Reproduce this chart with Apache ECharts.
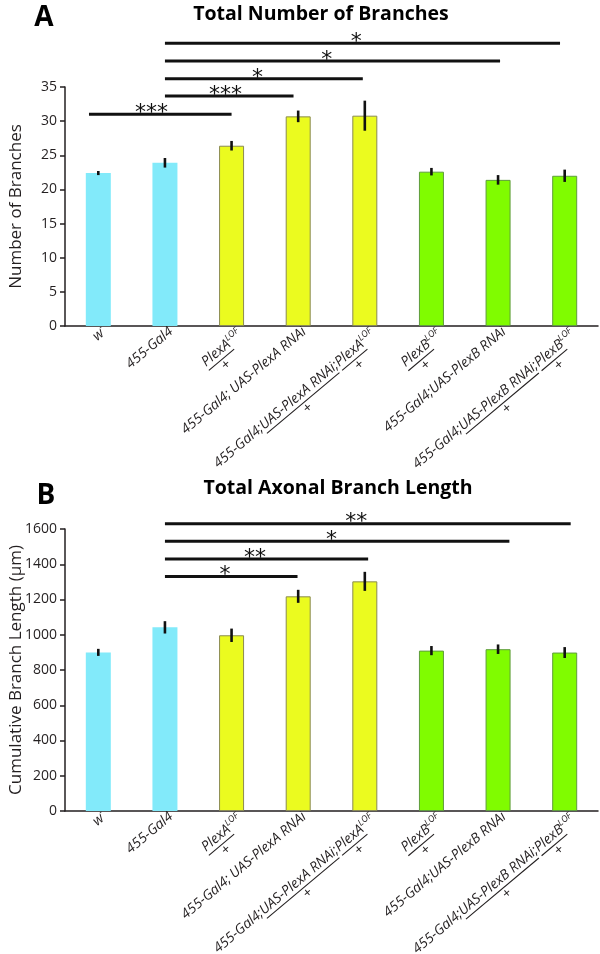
<!DOCTYPE html>
<html><head><meta charset="utf-8">
<script src="https://cdn.jsdelivr.net/npm/echarts@6/dist/echarts.min.js"></script>
<style>html,body{margin:0;padding:0;background:#fff}#c{width:600px;height:954px}</style>
</head><body><div id="c"></div>
<script>
// ---------------- DATA ----------------
const categories = [
  'w-', '455-Gal4', 'PlexA LOF/+', '455-Gal4; UAS-PlexA RNAi',
  '455-Gal4;UAS-PlexA RNAi/+;PlexA LOF/+', 'PlexB LOF/+',
  '455-Gal4;UAS-PlexB RNAi', '455-Gal4;UAS-PlexB RNAi/+;PlexB LOF/+'
];
const groups = ['control', 'control', 'plexA', 'plexA', 'plexA', 'plexB', 'plexB', 'plexB'];

const branchMeans  = [22.4, 23.9, 26.4, 30.7, 30.8, 22.6, 21.4, 22.0];
const branchErrors = [0.3, 0.7, 0.7, 0.85, 2.2, 0.55, 0.7, 0.9];

const lengthMeans  = [900, 1042, 997, 1218, 1303, 910, 918, 899];
const lengthErrors = [20, 35, 38, 37, 54, 26, 27, 31];

// significance bars: [from index, to index, level, stars, star position index]
const branchSig = [
  [-0.14, 2.0, 31.0, '***', 0.80],
  [1.0, 2.93, 33.7, '***', 1.91],
  [1.0, 3.97, 36.2, '*', 2.39],
  [1.0, 6.03, 38.8, '*', 3.43],
  [1.0, 6.93, 41.4, '*', 3.87]
];
const lengthSig = [
  [1.0, 2.99, 1330, '*', 1.90],
  [1.0, 4.05, 1430, '**', 2.35],
  [1.0, 6.17, 1530, '*', 3.50],
  [1.0, 7.09, 1630, '**', 3.87]
];

const branchAxis = { min: 0, max: 35, step: 5 };
const lengthAxis = { min: 0, max: 1600, step: 200 };

// label text pieces (u = underlined numerator with "+" below, s = superscript)
const labelParts = [
  [['w'], ['-', 's']],
  [['455-Gal4']],
  [['PlexA', 'u'], ['LOF', 's']],
  [['455-Gal4; UAS-PlexA RNAi']],
  [['455-Gal4;'], ['UAS-PlexA RNAi', 'u'], [';'], ['PlexA', 'u'], ['LOF', 's']],
  [['PlexB', 'u'], ['LOF', 's']],
  [['455-Gal4;UAS-PlexB RNAi']],
  [['455-Gal4;'], ['UAS-PlexB RNAi', 'u'], [';'], ['PlexB', 'u'], ['LOF', 's']]
];

// ---------------- STYLE ----------------
const INK = '#231f20';
const fills = { control: '#82EAFA', plexA: '#EBFB1F', plexB: '#80FC00' };
const borders = { control: '#82EAFA', plexA: '#8a8a52', plexB: '#5e9c3c' };

const FAM = 'Open Sans';
const MAIN_SIZE = 14, SUP_SIZE = 9;
const LH1 = 15, LH2 = 2, LH3 = 12;
const ctx = document.createElement('canvas').getContext('2d');
function tw(t, size) { ctx.font = 'italic normal ' + size + 'px "' + FAM + '"'; return ctx.measureText(t).width; }

const rich = {
  t: { fontFamily: FAM, fontStyle: 'italic', fontSize: MAIN_SIZE, lineHeight: LH1, color: INK },
  s: { fontFamily: FAM, fontStyle: 'italic', fontSize: SUP_SIZE, lineHeight: LH1, color: INK, padding: [0, 0, 9, 0] }
};
const isFraction = labelParts.map(parts => parts.some(p => p[1] === 'u'));
const labelRich = labelParts.map((parts, li) => {
  const line1 = parts.map(p => '{' + (p[1] === 's' ? 's' : 't') + '|' + p[0] + '}').join('');
  if (!isFraction[li]) return line1;
  const widths = parts.map(p => tw(p[0], p[1] === 's' ? SUP_SIZE : MAIN_SIZE));
  const line2 = parts.map((p, j) => {
    const name = (p[1] === 'u' ? 'r' : 'g') + li + '_' + j;
    rich[name] = p[1] === 'u'
      ? { width: widths[j], height: 1.1, lineHeight: LH2, fontSize: 1, backgroundColor: INK }
      : { width: widths[j], lineHeight: LH2, fontSize: 1 };
    return '{' + name + '| }';
  }).join('');
  const line3 = parts.map((p, j) => {
    if (p[1] === 'u') {
      const name = 'p' + li + '_' + j;
      const pw = tw('+', MAIN_SIZE);
      const pad = Math.max(0, (widths[j] - pw) / 2);
      rich[name] = { fontFamily: FAM, fontStyle: 'italic', fontSize: MAIN_SIZE, lineHeight: LH3, color: INK, padding: [0, pad, 0, pad] };
      return '{' + name + '|+}';
    }
    const name = 'h' + li + '_' + j;
    rich[name] = { width: widths[j], lineHeight: LH3, fontSize: 1 };
    return '{' + name + '| }';
  }).join('');
  return line1 + '\n' + line2 + '\n' + line3;
});
const SHIFT = -8;
const axisCats = categories.map((c, k) => ({
  value: c,
  textStyle: { padding: isFraction[k] ? [LH2 + LH3 + 8, SHIFT, 0, 0] : [0, SHIFT, 0, 0] }
}));

function xAxisFor(i) {
  return {
    gridIndex: i, type: 'category', data: axisCats, boundaryGap: true,
    axisLine: { lineStyle: { color: INK, width: 1.5 } },
    axisTick: { show: false },
    axisLabel: { interval: 0, rotate: 40, margin: 9, color: INK, formatter: (v, idx) => labelRich[idx], rich: rich }
  };
}
function yAxisFor(i, ax, name) {
  return {
    gridIndex: i, type: 'value', min: ax.min, max: ax.max, interval: ax.step,
    name: name, nameLocation: 'middle', nameGap: 40, nameMoveOverlap: false,
    nameTextStyle: { fontFamily: FAM, fontSize: 17, color: INK },
    splitLine: { show: false },
    axisLine: { show: true, lineStyle: { color: INK, width: 1.5 } },
    axisTick: { show: true, length: 5, lineStyle: { color: INK, width: 1.5 } },
    axisLabel: { margin: 8, fontFamily: FAM, fontSize: 14, color: INK, formatter: v => String(v) }
  };
}
function barSeries(i, means) {
  return {
    type: 'bar', xAxisIndex: i, yAxisIndex: i, barWidth: 25,
    data: means.map((m, k) => ({
      value: m,
      itemStyle: { color: fills[groups[k]], borderColor: borders[groups[k]], borderWidth: groups[k] === 'control' ? 0 : 1 }
    }))
  };
}
function errSeries(i, means, errs) {
  return {
    type: 'custom', xAxisIndex: i, yAxisIndex: i, z: 4,
    data: means.map((m, k) => [k, m, errs[k]]),
    renderItem: (params, api) => {
      const a = api.coord([api.value(0), api.value(1) - api.value(2)]);
      const b = api.coord([api.value(0), api.value(1) + api.value(2)]);
      return { type: 'line', shape: { x1: a[0], y1: a[1], x2: b[0], y2: b[1] }, style: { stroke: '#111', lineWidth: 2.6 } };
    }
  };
}
function sigSeries(i, sig) {
  return {
    type: 'custom', xAxisIndex: i, yAxisIndex: i, z: 5, clip: false,
    data: sig.map(s => [s[0], s[1], s[2], s[4]]),
    renderItem: (params, api) => {
      const band = api.size([1, 0])[0];
      const base = api.coord([0, api.value(2)]);
      const px = v => base[0] + v * band;
      return {
        type: 'group', children: [
          { type: 'line', shape: { x1: px(api.value(0)), y1: base[1], x2: px(api.value(1)), y2: base[1] }, style: { stroke: '#111', lineWidth: 3 } },
          { type: 'text', x: px(api.value(3)), y: base[1] - 1, style: { text: sig[params.dataIndex][3], font: '22px "DejaVu Sans"', fill: '#111', align: 'center', verticalAlign: 'middle' } }
        ]
      };
    }
  };
}

const chart = echarts.init(document.getElementById('c'), null, { renderer: 'canvas' });
chart.setOption({
  animation: false,
  backgroundColor: '#fff',
  grid: [
    { left: 65, right: 2, top: 87, height: 239, outerBoundsMode: 'none', containLabel: false },
    { left: 65, right: 2, top: 529, height: 282, outerBoundsMode: 'none', containLabel: false }
  ],
  xAxis: [xAxisFor(0), xAxisFor(1)],
  yAxis: [yAxisFor(0, branchAxis, 'Number of Branches'), yAxisFor(1, lengthAxis, 'Cumulative Branch Length (µm)')],
  series: [
    barSeries(0, branchMeans), errSeries(0, branchMeans, branchErrors), sigSeries(0, branchSig),
    barSeries(1, lengthMeans), errSeries(1, lengthMeans, lengthErrors), sigSeries(1, lengthSig)
  ],
  graphic: [
    { type: 'text', x: 44, y: 18, style: { text: 'A', font: 'bold 28px "Open Sans"', fill: '#000', align: 'center', verticalAlign: 'middle' } },
    { type: 'text', x: 321, y: 14, style: { text: 'Total Number of Branches', font: 'bold 19.5px "Open Sans"', fill: '#000', align: 'center', verticalAlign: 'middle' } },
    { type: 'text', x: 46, y: 496, style: { text: 'B', font: 'bold 28px "Open Sans"', fill: '#000', align: 'center', verticalAlign: 'middle' } },
    { type: 'text', x: 338, y: 488, style: { text: 'Total Axonal Branch Length', font: 'bold 19.5px "Open Sans"', fill: '#000', align: 'center', verticalAlign: 'middle' } }
  ]
});
</script>
</body></html>
